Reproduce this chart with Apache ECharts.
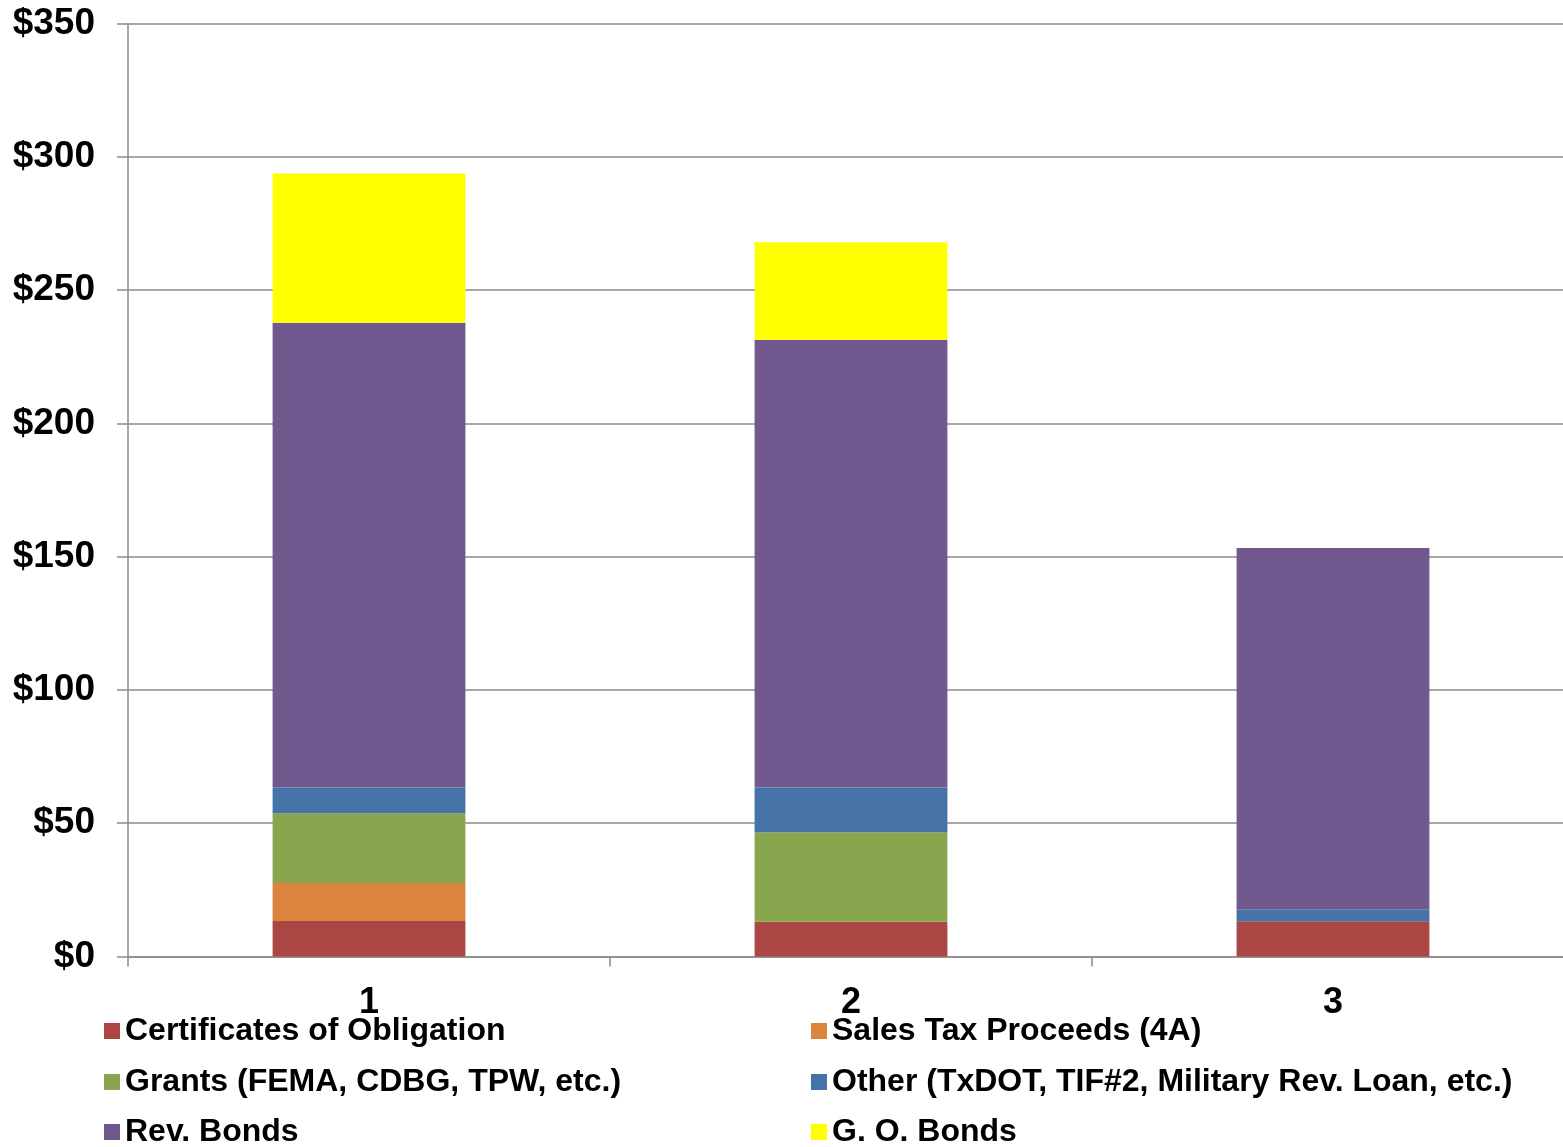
<!DOCTYPE html>
<html>
<head>
<meta charset="utf-8">
<title>Funding Sources</title>
<script src="https://cdn.jsdelivr.net/npm/echarts@6/dist/echarts.min.js"></script>
<style>
  html, body { margin: 0; padding: 0; background: #ffffff; }
  #chart { width: 1563px; height: 1147px; }
</style>
</head>
<body>
<div id="chart"></div>
<script>
// Funding by source, in millions of dollars
const categories = ['1', '2', '3'];
const certificatesOfObligation = [13.3, 13.0, 13.2];
const salesTaxProceeds = [14.3, 0, 0];
const grants = [26.1, 33.6, 0];
const other = [9.7, 16.8, 4.5];
const revBonds = [174.3, 168.0, 135.5];
const goBonds = [56.0, 36.5, 0];
const yTicks = [0, 50, 100, 150, 200, 250, 300, 350];

const FONT = '"Liberation Sans", Arial, Helvetica, sans-serif';
const AXIS_GRAY = '#8a8a8a';

const seriesDefs = [
  { name: 'Certificates of Obligation', data: certificatesOfObligation, color: '#AA4643' },
  { name: 'Sales Tax Proceeds (4A)', data: salesTaxProceeds, color: '#DB843D' },
  { name: 'Grants (FEMA, CDBG, TPW, etc.)', data: grants, color: '#89A54E' },
  { name: 'Other (TxDOT, TIF#2, Military Rev. Loan, etc.)', data: other, color: '#4572A7' },
  { name: 'Rev. Bonds', data: revBonds, color: '#71588F' },
  { name: 'G. O. Bonds', data: goBonds, color: '#FFFF00' }
];

const legendText = {
  fontFamily: FONT,
  fontWeight: 'bold',
  fontSize: 32,
  lineHeight: 32,
  color: '#000000'
};

// Two-column legend: one component per entry, laid out row by row
const legendColumns = [104, 811];
const legendRows = [1015, 1066, 1116];
const legends = seriesDefs.map((s, i) => ({
  left: legendColumns[i % 2],
  top: legendRows[Math.floor(i / 2)],
  padding: 0,
  itemWidth: 16,
  itemHeight: 16,
  icon: 'rect',
  selectedMode: false,
  textStyle: legendText,
  data: [s.name]
}));

const chart = echarts.init(document.getElementById('chart'), null, { renderer: 'canvas' });

chart.setOption({
  animation: false,
  backgroundColor: '#ffffff',
  // plot area runs slightly past the right edge of the canvas
  grid: {
    left: 128, width: 1446, top: 23.5, height: 933,
    containLabel: false,
    outerBoundsMode: 'none'
  },
  legend: legends,
  xAxis: {
    type: 'category',
    data: categories,
    axisLine: { show: true, lineStyle: { color: AXIS_GRAY, width: 1.5 } },
    axisTick: { show: true, length: 10, lineStyle: { color: AXIS_GRAY, width: 1.5 } },
    axisLabel: {
      margin: 29,
      fontFamily: FONT,
      fontWeight: 'bold',
      fontSize: 36,
      color: '#000000'
    },
    splitLine: { show: false }
  },
  yAxis: {
    type: 'value',
    min: yTicks[0],
    max: yTicks[yTicks.length - 1],
    interval: yTicks[1] - yTicks[0],
    axisLine: { show: true, lineStyle: { color: AXIS_GRAY, width: 1.5 } },
    axisTick: { show: true, length: 11, lineStyle: { color: AXIS_GRAY, width: 1.5 } },
    axisLabel: {
      margin: 33,
      fontFamily: FONT,
      fontWeight: 'bold',
      fontSize: 37,
      color: '#000000',
      formatter: v => '$' + v
    },
    splitLine: { show: true, lineStyle: { color: AXIS_GRAY, width: 1.5 } }
  },
  series: seriesDefs.map(s => ({
    name: s.name,
    type: 'bar',
    stack: 'funding',
    barWidth: '40%',
    data: s.data,
    itemStyle: { color: s.color },
    emphasis: { disabled: true }
  }))
});
</script>
</body>
</html>
